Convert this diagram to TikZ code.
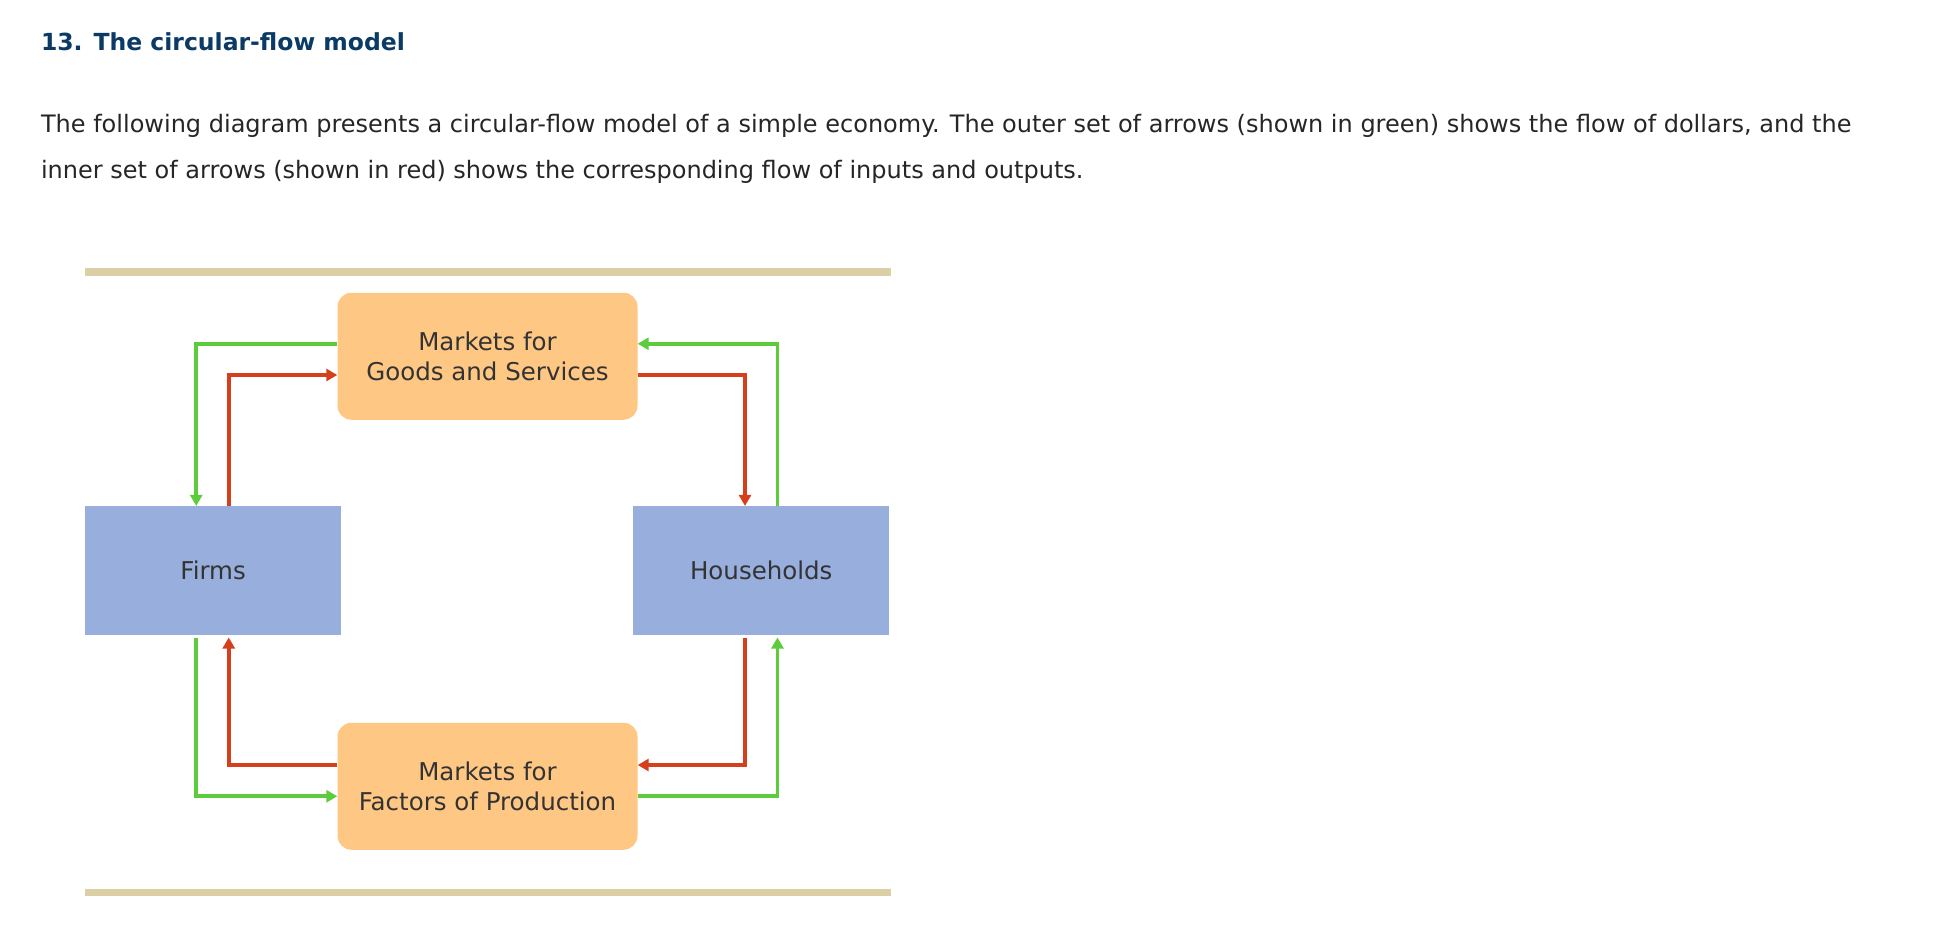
\documentclass[tikz,border=0pt]{standalone}
\usepackage{fontspec}
\setmainfont{DejaVu Sans}
\usetikzlibrary{arrows.meta}
\definecolor{titleblue}{HTML}{0B3A66}
\definecolor{barc}{HTML}{DCCFA6}
\definecolor{mkt}{HTML}{FFC784}
\definecolor{agent}{HTML}{98AEDD}
\definecolor{gr}{HTML}{5CCB3C}
\definecolor{rd}{HTML}{D4401C}
\begin{document}
\begin{tikzpicture}[x=1.25pt,y=-1.25pt,
  market/.style={fill=mkt,rounded corners=14pt,minimum width=300pt,minimum height=127pt,align=center,font=\fontsize{24.5}{30}\selectfont,text=black!80},
  agentbox/.style={fill=agent,minimum width=256pt,minimum height=129pt,font=\fontsize{24.5}{26}\selectfont,text=black!80},
  flow/.style={line width=3.6pt,-{Triangle[length=11pt,width=12pt]}},
  bar/.style={fill=barc}]
\useasboundingbox (0,0) rectangle (1558.4,745.6);
\fill[white] (0,0) rectangle (1558.4,745.6);
\node[anchor=base west,font=\bfseries\fontsize{23.5}{28}\selectfont,text=titleblue] (title) at (30,40) {13. The circular-flow model};
\node[anchor=base west,font=\fontsize{24}{28}\selectfont,text=black!85] (p1) at (30,106) {The following diagram presents a circular-flow model of a simple economy. The outer set of arrows (shown in green) shows the flow of dollars, and the};
\node[anchor=base west,font=\fontsize{24}{28}\selectfont,text=black!85] (p2) at (30,143) {inner set of arrows (shown in red) shows the corresponding flow of inputs and outputs.};
\fill[bar] (68,214.5) rectangle (713,220.5);
\fill[bar] (68,711) rectangle (713,717);
\node[market] (goods) at (390,285) {Markets for\\Goods and Services};
\node[market] (factors) at (390,629) {Markets for\\Factors of Production};
\node[agentbox] (firms) at (170.5,456.5) {Firms};
\node[agentbox] (house) at (609,456.5) {Households};
% top left
\draw[flow,gr] (goods.west |- 0,275) -| (firms.north -| 157,0);
\draw[flow,rd] (183,405) |- (goods.west |- 0,300);
% top right
\draw[flow,gr] (house.north -| 622,0) |- (goods.east |- 0,275);
\draw[flow,rd] (goods.east |- 0,300) -| (house.north -| 596,0);
% bottom left
\draw[flow,gr] (157,510) |- (factors.west |- 0,637);
\draw[flow,rd] (factors.west |- 0,612) -| (183,510);
% bottom right
\draw[flow,rd] (596,510) |- (factors.east |- 0,612);
\draw[flow,gr] (factors.east |- 0,637) -| (622,510);
\end{tikzpicture}
\end{document}
